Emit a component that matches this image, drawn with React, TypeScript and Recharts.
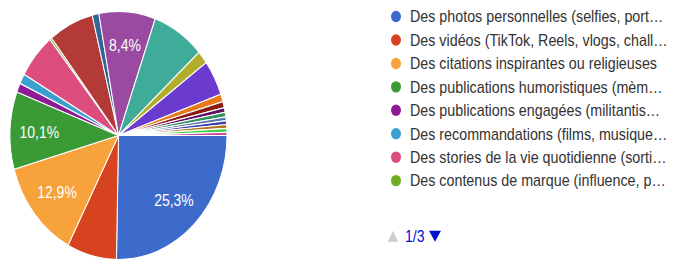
import { PieChart, Pie, Cell, Legend } from 'recharts';

const categories = [
  'Des photos personnelles (selfies, port…',
  'Des vidéos (TikTok, Reels, vlogs, chall…',
  'Des citations inspirantes ou religieuses',
  'Des publications humoristiques (mèm…',
  'Des publications engagées (militantis…',
  'Des recommandations (films, musique…',
  'Des stories de la vie quotidienne (sorti…',
  'Des contenus de marque (influence, p…',
  'Réponse 9',
  'Réponse 10',
  'Réponse 11',
  'Réponse 12',
  'Réponse 13',
  'Réponse 14',
  'Réponse 15',
  'Réponse 16',
  'Réponse 17',
  'Réponse 18',
  'Réponse 19',
  'Réponse 20',
  'Réponse 21',
  'Réponse 22',
  'Réponse 23',
];

const shares = [
  25.3, 7.4, 12.9, 10.1, 1.2, 1.3, 5.9, 0.3, 6.7, 1.0, 8.4, 7.8, 1.7, 4.6, 1.0,
  0.8, 0.6, 0.6, 0.5, 0.5, 0.5, 0.5, 0.4,
];

const colors = [
  '#3d6bcb', '#d8431f', '#f7a23a', '#3a9a35', '#8f1a96', '#3b9fd0', '#dc4d7d', '#6fae22',
  '#b33a36', '#336494', '#9a4aa1', '#3fab99', '#b0ae2a', '#6b3bcf', '#e67a1a', '#8b1a14',
  '#651067', '#329262', '#5574a6', '#3b3eac', '#b77322', '#3ad63f', '#b91383',
];

const pageLabel = '1/3';
const perPage = 8;

const data = categories.map((name, i) => ({ name, value: shares[i] }));

// source image is stretched vertically, so draw at this height and scale up
const SY = 1.143;
const H = 259 / SY;
const RAD = Math.PI / 180;
const FONT = "'Liberation Sans', Arial, sans-serif";

const renderLabel = (p: any) => {
  if (p.value < 8) return null;
  const r = p.outerRadius * 0.73;
  const x = p.cx + r * Math.cos(-p.midAngle * RAD);
  const y = p.cy + r * Math.sin(-p.midAngle * RAD);
  return (
    <text x={x} y={y} fill="#fff" fontSize={14} textAnchor="middle" dominantBaseline="central" fontFamily={FONT}>
      {p.value.toFixed(1).replace('.', ',')}%
    </text>
  );
};

// first page of the legend, in data order
const LegendBox = () => (
  <svg width={294} height={H} style={{ fontFamily: FONT }}>
    {categories.slice(0, perPage).map((name, i) => {
      const cy = 14.5 + i * 20.5;
      return (
        <g key={i}>
          <circle cx={16} cy={cy} r={5} fill={colors[i]} />
          <text x={30} y={cy} fontSize={14.3} fill="#333" dominantBaseline="central">{name}</text>
        </g>
      );
    })}
    <g transform={`translate(0, ${236 / SY})`}>
      <path d="M8,5 L18,5 L13,-4.5 Z" fill="#ccc" />
      <text x={25} y={0} fontSize={14} fill="#0011cc" dominantBaseline="central">{pageLabel}</text>
      <path d="M49,-4.5 L61,-4.5 L55,5 Z" fill="#0011cc" />
    </g>
  </svg>
);

export default function App() {
  return (
    <div style={{ position: 'fixed', left: 0, top: 0, width: 674, height: H, transform: `scaleY(${SY})`, transformOrigin: '0 0', background: '#fff' }}>
      <PieChart width={674} height={H} margin={{ top: 0, right: 0, bottom: 0, left: 0 }}>
        <Pie
          data={data}
          dataKey="value"
          nameKey="name"
          cx={118.5}
          cy={118.5}
          outerRadius={108.5}
          startAngle={0}
          endAngle={-360}
          stroke="#fff"
          strokeWidth={1}
          label={renderLabel}
          labelLine={false}
          isAnimationActive={false}
        >
          {data.map((_, i) => (
            <Cell key={i} fill={colors[i]} />
          ))}
        </Pie>
        <Legend
          layout="vertical"
          verticalAlign="top"
          align="right"
          content={LegendBox}
          wrapperStyle={{ left: 380, top: 0, width: 294, height: H }}
        />
      </PieChart>
    </div>
  );
}
